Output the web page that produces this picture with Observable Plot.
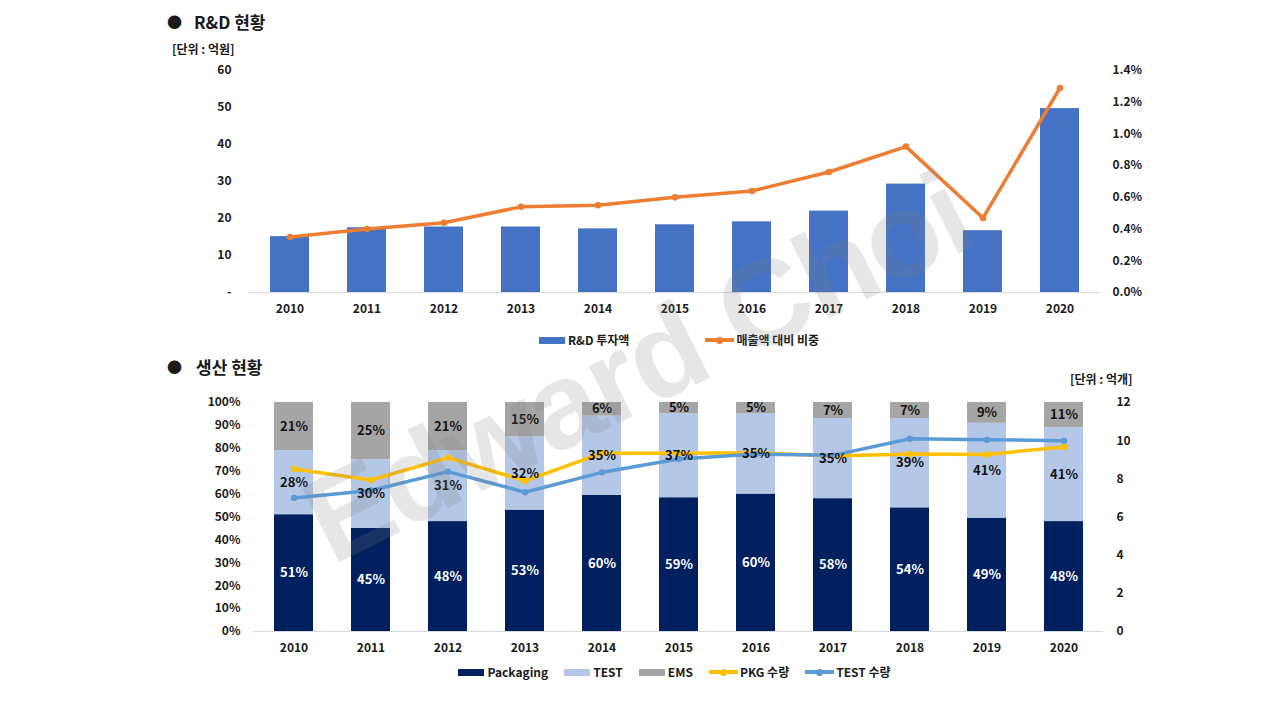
<!DOCTYPE html>
<html>
<head>
<meta charset="utf-8">
<script src="https://cdn.jsdelivr.net/npm/d3@7"></script>
<script src="https://cdn.jsdelivr.net/npm/@observablehq/plot@0.6"></script>
<style>
  body { margin: 0; background: #fff; }
  #page { position: relative; width: 1280px; height: 720px; overflow: hidden;
          font-family: "Noto Sans CJK KR", "Noto Sans", sans-serif; font-weight: bold; color: #1a1a1a; }
  .abs { position: absolute; white-space: nowrap; line-height: 1; }
  .title { font-size: 17px; }
  .bullet { font-size: 15px; }
  .unit { font-size: 12px; }
  .legend { position: absolute; display: flex; justify-content: center; align-items: center; gap: 16px; font-size: 12px; line-height: 1; }
  .item { display: flex; align-items: center; }
  .sw-rect { width: 26px; height: 7px; margin-right: 3px; }
  .sw-line { position: relative; width: 29px; height: 3.5px; margin-right: 2px; }
  .sw-line i { position: absolute; left: 11px; top: -1.75px; width: 7px; height: 7px; border-radius: 50%; }
  .plotbox { position: absolute; left: 0; }
  #wm { position: absolute; left: 637px; top: 367px; transform: translate(-50%, -50%) rotate(-26.5deg);
        font-family: "Liberation Sans", Arial, sans-serif; font-weight: bold; font-size: 122px; letter-spacing: -2px;
        color: rgba(128,128,128,0.2); white-space: nowrap; pointer-events: none; line-height: 1; }
</style>
</head>
<body>
<div id="page"></div>
<script>
// ---------- data ----------
const years = ["2010","2011","2012","2013","2014","2015","2016","2017","2018","2019","2020"];
const rdInvest = [15.1, 17.5, 17.7, 17.7, 17.2, 18.3, 19.1, 22.0, 29.3, 16.7, 49.7];      // 억원
const rdRatio  = [0.35, 0.40, 0.44, 0.54, 0.55, 0.60, 0.64, 0.76, 0.92, 0.47, 1.29];      // %
const pkgShare  = [51, 45, 48, 53, 60, 59, 60, 58, 54, 49, 48];
const testShare = [28, 30, 31, 32, 35, 37, 35, 35, 39, 41, 41];
const emsShare  = [21, 25, 21, 15,  6,  5,  5,  7,  7,  9, 11];
const pkgQty  = [8.52, 7.94, 9.11, 7.89, 9.34, 9.34, 9.37, 9.20, 9.30, 9.28, 9.67];     // 억개
const testQty = [7.00, 7.39, 8.38, 7.30, 8.34, 9.04, 9.30, 9.23, 10.10, 10.05, 10.00];  // 억개
const topLeftTicks  = [0, 10, 20, 30, 40, 50, 60];
const topRightTicks = [0, 0.2, 0.4, 0.6, 0.8, 1.0, 1.2, 1.4];
const botLeftTicks  = [0, 0.1, 0.2, 0.3, 0.4, 0.5, 0.6, 0.7, 0.8, 0.9, 1.0];
const botRightTicks = [0, 2, 4, 6, 8, 10, 12];
const topSeries = ["R&D 투자액", "매출액 대비 비중"];
const botSeries = ["Packaging", "TEST", "EMS"];
const botLines  = ["PKG 수량", "TEST 수량"];
const titles = ["R&D 현황", "생산 현황"];
const units = ["[단위 : 억원]", "[단위 : 억개]"];
const watermark = "Edward Choi";

// ---------- colours ----------
const C = { rd: "#4472C4", ratio: "#ED7D31", pkg: "#002060", test: "#B4C7E7", ems: "#A5A5A5", pkgLine: "#FFC000", testLine: "#5B9BD5" };
const FONT = '"Noto Sans CJK KR", "Noto Sans", sans-serif';
const page = document.getElementById("page");

function addDiv(cls, html, left, top, extra) {
  const d = document.createElement("div");
  d.className = "abs " + cls;
  d.innerHTML = html;
  d.style.left = left + "px";
  d.style.top = top + "px";
  if (extra) Object.assign(d.style, extra);
  page.appendChild(d);
  return d;
}

// titles and units
addDiv("bullet", "●", 167, 14);
addDiv("title", titles[0], 194, 13);
addDiv("unit", units[0], 172, 43);
addDiv("bullet", "●", 167, 359);
addDiv("title", titles[1], 196, 358);
addDiv("unit", units[1], 1070, 373);

// ---------- top chart ----------
const K = 60 / 1.4;   // ratio (%) -> left-axis units
const topPlot = Plot.plot({
  width: 1280, height: 323,
  marginLeft: 248, marginRight: 180, marginTop: 70, marginBottom: 31,
  style: { fontFamily: FONT, fontSize: "12px", fontWeight: "bold", color: "#1a1a1a", background: "transparent", overflow: "visible" },
  x: { type: "band", domain: years, paddingInner: 0.5, paddingOuter: 0.25, axis: null },
  y: { domain: [0, 60], axis: null },
  marks: [
    Plot.barY(years, { x: d => d, y: (d, i) => rdInvest[i], fill: C.rd }),
    Plot.ruleY([0], { stroke: "#d9d9d9", strokeWidth: 1.2 }),
    Plot.line(years, { x: d => d, y: (d, i) => rdRatio[i] * K, stroke: C.ratio, strokeWidth: 3.5, strokeLinejoin: "round" }),
    Plot.dot(years, { x: d => d, y: (d, i) => rdRatio[i] * K, r: 3.3, fill: C.ratio }),
    Plot.axisX({ tickSize: 0, tickPadding: 12, label: null }),
    Plot.axisY(topLeftTicks, { anchor: "left", tickSize: 0, tickPadding: 17, label: null, tickFormat: d => d === 0 ? "-" : String(d) }),
    Plot.axisY(topRightTicks.map(v => v * K), { anchor: "right", tickSize: 0, tickPadding: 12, label: null, tickFormat: d => (d / K).toFixed(1) + "%", textAnchor: "start" })
  ]
});
const tb = document.createElement("div");
tb.className = "plotbox"; tb.style.top = "0px";
tb.appendChild(topPlot);
page.appendChild(tb);

// ---------- bottom chart ----------
const shares = [];
years.forEach((y, i) => {
  shares.push({ year: y, series: botSeries[0], v: pkgShare[i] });
  shares.push({ year: y, series: botSeries[1], v: testShare[i] });
  shares.push({ year: y, series: botSeries[2], v: emsShare[i] });
});
const botPlot = Plot.plot({
  width: 1280, height: 312,
  marginLeft: 253, marginRight: 177, marginTop: 52, marginBottom: 31,
  style: { fontFamily: FONT, fontSize: "12px", fontWeight: "bold", color: "#1a1a1a", background: "transparent", overflow: "visible" },
  x: { type: "band", domain: years, paddingInner: 0.5, paddingOuter: 0.25, axis: null },
  y: { domain: [0, 1], axis: null },
  color: { domain: botSeries, range: [C.pkg, C.test, C.ems] },
  marks: [
    Plot.barY(shares, Plot.stackY({ x: "year", y: "v", fill: "series", offset: "normalize" })),
    Plot.ruleY([0], { stroke: "#d9d9d9", strokeWidth: 1.2 }),
    Plot.line(years, { x: d => d, y: (d, i) => pkgQty[i] / 12, stroke: C.pkgLine, strokeWidth: 3.5, strokeLinejoin: "round" }),
    Plot.dot(years, { x: d => d, y: (d, i) => pkgQty[i] / 12, r: 3.2, fill: C.pkgLine }),
    Plot.line(years, { x: d => d, y: (d, i) => testQty[i] / 12, stroke: C.testLine, strokeWidth: 3.5, strokeLinejoin: "round" }),
    Plot.dot(years, { x: d => d, y: (d, i) => testQty[i] / 12, r: 3.2, fill: C.testLine }),
    Plot.text(shares, Plot.stackY({ x: "year", y: "v", z: "series", offset: "normalize",
      text: d => d.series === botSeries[0] ? d.v + "%" : "", fill: "#ffffff", fontSize: 13, fontWeight: "bold" })),
    Plot.text(shares, Plot.stackY({ x: "year", y: "v", z: "series", offset: "normalize",
      text: d => d.series === botSeries[0] ? "" : d.v + "%", fill: "#111111", fontSize: 13, fontWeight: "bold" })),
    Plot.axisX({ tickSize: 0, tickPadding: 12, label: null }),
    Plot.axisY(botLeftTicks, { anchor: "left", tickSize: 0, tickPadding: 13, label: null, tickFormat: d => Math.round(d * 100) + "%" }),
    Plot.axisY(botRightTicks.map(v => v / 12), { anchor: "right", tickSize: 0, tickPadding: 13, label: null, tickFormat: d => String(Math.round(d * 12)), textAnchor: "start" })
  ]
});
const bb = document.createElement("div");
bb.className = "plotbox"; bb.style.top = "350px";
bb.appendChild(botPlot);
page.appendChild(bb);

// ---------- legends ----------
function legend(items, centerX, top, gap) {
  const L = document.createElement("div");
  L.className = "legend";
  L.style.left = (centerX - 400) + "px";
  L.style.width = "800px";
  L.style.top = top + "px";
  L.style.gap = gap + "px";
  items.forEach(it => {
    const e = document.createElement("div");
    e.className = "item";
    if (it.type === "rect") {
      e.innerHTML = `<span class="sw-rect" style="background:${it.color}"></span><span>${it.label}</span>`;
    } else {
      e.innerHTML = `<span class="sw-line" style="background:${it.color}"><i style="background:${it.color}"></i></span><span>${it.label}</span>`;
    }
    L.appendChild(e);
  });
  page.appendChild(L);
}
legend([
  { type: "rect", color: C.rd, label: topSeries[0] },
  { type: "line", color: C.ratio, label: topSeries[1] }
], 679, 334, 76);
legend([
  { type: "rect", color: C.pkg, label: botSeries[0] },
  { type: "rect", color: C.test, label: botSeries[1] },
  { type: "rect", color: C.ems, label: botSeries[2] },
  { type: "line", color: C.pkgLine, label: botLines[0] },
  { type: "line", color: C.testLine, label: botLines[1] }
], 674.5, 666, 16);

// ---------- watermark ----------
const wm = document.createElement("div");
wm.id = "wm";
wm.textContent = watermark;
page.appendChild(wm);
</script>
</body>
</html>
